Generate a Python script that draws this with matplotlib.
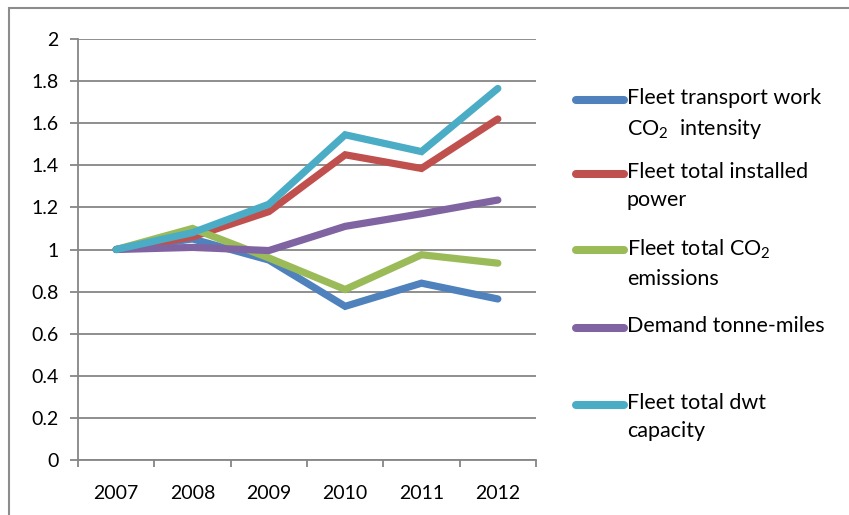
import matplotlib
matplotlib.use("Agg")
import matplotlib.pyplot as plt
from matplotlib.lines import Line2D
from matplotlib.patches import Rectangle
from matplotlib.ticker import FuncFormatter

plt.rcParams['font.family'] = ['Lato', 'DejaVu Sans']
plt.rcParams['mathtext.default'] = 'regular'

years = ['2007', '2008', '2009', '2010', '2011', '2012']
transport_intensity = [1.0, 1.05, 0.95, 0.73, 0.84, 0.765]
installed_power = [1.0, 1.06, 1.18, 1.45, 1.385, 1.62]
total_co2 = [1.0, 1.10, 0.96, 0.81, 0.975, 0.935]
tonne_miles = [1.0, 1.01, 0.995, 1.11, 1.17, 1.235]
dwt_capacity = [1.0, 1.08, 1.215, 1.545, 1.465, 1.765]

labels = ['Fleet transport work\nCO$_2$  intensity',
          'Fleet total installed\npower',
          'Fleet total CO$_2$\nemissions',
          'Demand tonne-miles',
          'Fleet total dwt\ncapacity']
colors = ['#4F81BD', '#C0504D', '#9BBB59', '#8064A2', '#4BACC6']
series = [transport_intensity, installed_power, total_co2, tonne_miles, dwt_capacity]

W, H = 849, 515
fig = plt.figure(figsize=(W / 100, H / 100), dpi=100)
ax = fig.add_axes([78 / W, 1 - 460 / H, (536 - 78) / W, (460 - 39) / H])

grey = '#868686'
x = list(range(len(years)))
for vals, c in zip(series, colors):
    ax.plot(x, vals, color=c, lw=5.2, solid_capstyle='round', solid_joinstyle='miter', zorder=3)

ax.set_xlim(-0.5, len(years) - 0.5)
ax.set_ylim(0, 2)
ax.set_yticks([i * 0.2 for i in range(11)])
ax.yaxis.set_major_formatter(FuncFormatter(lambda v, p: '%g' % round(v, 1)))
ax.grid(axis='y', color=grey, lw=1.3)
ax.set_axisbelow(True)

ax.set_xticks(x)
ax.set_xticklabels(years)
ax.set_xticks([i - 0.5 for i in range(len(years) + 1)], minor=True)
ax.tick_params(axis='x', which='major', length=0, pad=18, labelsize=14)
ax.tick_params(axis='x', which='minor', length=5, width=1.3, color=grey)
ax.tick_params(axis='y', length=6, width=1.3, color=grey, pad=8, labelsize=14)

for s in ['top', 'right']:
    ax.spines[s].set_visible(False)
for s in ['left', 'bottom']:
    ax.spines[s].set_color(grey)
    ax.spines[s].set_linewidth(1.3)

# legend drawn by hand so the key sits on the first text line, as in Excel
ys = [100, 174, 250, 328, 405]
for lab, c, yy in zip(labels, colors, ys):
    fig.add_artist(Line2D([576 / W, 624 / W], [1 - yy / H, 1 - yy / H], color=c, lw=5.8,
                          solid_capstyle='round'))
    fig.text(627 / W, 1 - (yy - 12) / H, lab, fontsize=15.5, va='top', ha='left',
             linespacing=1.5)

# outer chart border (only top and left visible in the crop)
fig.add_artist(Rectangle((9 / W, -0.1), 1.2, (1 - 8 / H) + 0.1, transform=fig.transFigure,
                         fill=False, edgecolor='#8c8c8c', lw=1.5))

fig.savefig('out.png', dpi=100)
